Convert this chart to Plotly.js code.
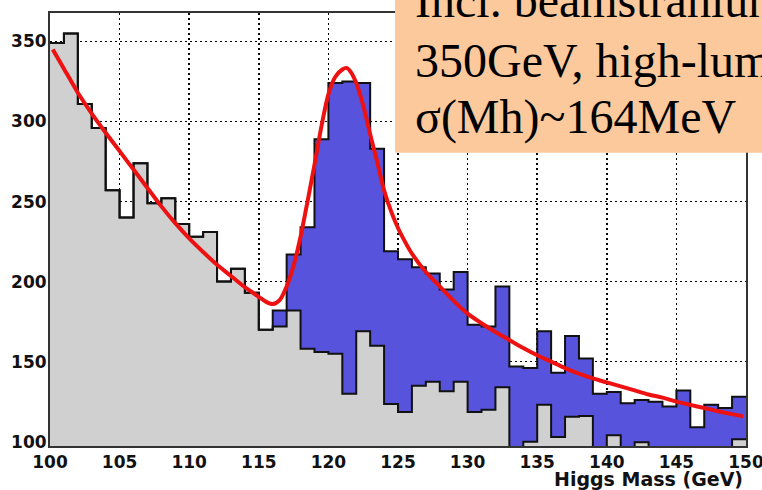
<!DOCTYPE html>
<html><head><meta charset="utf-8">
<script src="https://cdn.plot.ly/plotly-3.0.1.min.js"></script>
<style>html,body{margin:0;padding:0;background:#fff}</style>
</head><body><div id="chart" style="width:762px;height:490px"></div>
<script>
// Bin edges (GeV), 1 GeV bins
const binEdges = [100,101,102,103,104,105,106,107,108,109,110,111,112,113,114,115,116,117,118,119,120,
  121,122,123,124,125,126,127,128,129,130,131,132,133,134,135,136,137,138,139,140,
  141,142,143,144,145,146,147,148,149,150];
// Total (signal + background) entries per bin
const totalCounts = [349,355,311,296,257,240,274,249,252,236,228,231,200,208,193,170,182,217,234,289,
  324,325,324,283,219,214,209,205,195,206,173,172,197,147,146,169,143,166,152,130,
  131,124,126,125,122,132,109,123,121,128];
// Background-only entries per bin
const bkgCounts = [349,355,311,296,257,240,274,249,252,236,228,231,200,208,193,170,172,182,158,156,
  155,130,169,160,123.5,118.5,135,137.5,131.5,137.5,118.5,120,134,95,100,123,103,115.5,116,95,
  104,95,99.7,95,95,95,95,95,95,101.5];
// Fit curve
const fitX = [100.2,101,102,103,104,105,106,107,108,109,110,111,112,113,114,115,115.5,116,116.5,117,117.5,118,118.5,119,119.5,120,120.5,121,121.3,121.6,122,122.5,123,123.5,124,124.5,125,125.5,126,127,128,129,130,131,132,133,134,135,136,137,138,139,140,141,142,143,144,145,146,147,148,149,149.8];
const fitY = [345,333,318,305,293,281.5,270,258.5,247,236.5,227,218.5,210.5,203.5,196.5,190.5,187.5,186,188.5,197,210,228,250,273,297,317,328,332.5,333.5,331,324,310,292,275,257,244,233.5,225,217.5,206,197,188,180,174,168.5,163.5,158.5,154,150,146,142.5,139.5,137,134.5,132,129.5,127.5,125,123,121,119,117.2,115.8];
const xTicks = [100,105,110,115,120,125,130,135,140,145,150];
const yTicks = [100,150,200,250,300,350];
const boxLines = ['Incl. beamstrahlung','350GeV, high-lum','σ(Mh)~164MeV'];

function step(vals){ return vals.concat([vals[vals.length-1]]); }

const traces = [
  {x: binEdges, y: step(totalCounts), type:'scatter', mode:'lines', line:{shape:'hv', width:0, color:'#5753DC'},
   fill:'tozeroy', fillcolor:'#5753DC', hoverinfo:'skip', showlegend:false},
  {x: binEdges, y: step(bkgCounts), type:'scatter', mode:'lines', line:{shape:'hv', width:0, color:'#D0D0D0'},
   fill:'tozeroy', fillcolor:'#D0D0D0', hoverinfo:'skip', showlegend:false},
  {x: binEdges, y: step(bkgCounts), type:'scatter', mode:'lines', line:{shape:'hv', width:2, color:'#111'},
   hoverinfo:'skip', showlegend:false},
  {x: binEdges, y: step(totalCounts), type:'scatter', mode:'lines', line:{shape:'hv', width:2, color:'#111'},
   hoverinfo:'skip', showlegend:false},
  {x: fitX, y: fitY, type:'scatter', mode:'lines', line:{shape:'spline', smoothing:0.8, width:4, color:'#EE1111'},
   hoverinfo:'skip', showlegend:false}
];

const L=50, R=16, T=13, B=44, W=762, H=490;
const pw = W-L-R, ph = H-T-B;
const px2x = p => (p-L)/pw;
const py2y = p => (H-B-p)/ph;

const annotations = [
  {text:'Higgs Mass (GeV)', xref:'paper', yref:'paper', x:px2x(745), y:py2y(479), xanchor:'right', yanchor:'middle',
   showarrow:false, font:{family:'DejaVu Sans', size:19, color:'#111', weight:'bold'}}
];
const lineCenters = [1, 60, 116.5];
boxLines.forEach((t,i)=>{
  annotations.push({text:t, xref:'paper', yref:'paper', x:px2x(413), y:py2y(lineCenters[i]), xanchor:'left', yanchor:'middle',
    showarrow:false, font:{family:'Liberation Serif', size:48, color:'#000'}});
});

const layout = {
  width:W, height:H, margin:{l:L, r:R, t:T, b:B},
  paper_bgcolor:'#fff', plot_bgcolor:'#fff',
  xaxis:{range:[100,150], tickvals:xTicks, ticktext:xTicks.map(String), showline:true, mirror:true, linecolor:'#333', linewidth:2,
    showgrid:true, gridcolor:'#000', gridwidth:1.5, griddash:'2px,3px', zeroline:false, ticks:'', ticklabeloverflow:'allow',
    tickfont:{family:'DejaVu Sans', size:17, color:'#111', weight:'bold'}},
  yaxis:{range:[97.3,367.8], tickvals:yTicks, ticktext:yTicks.map(String), showline:true, mirror:true, linecolor:'#333', linewidth:2,
    showgrid:true, gridcolor:'#000', gridwidth:1.5, griddash:'2px,3px', zeroline:false, ticks:'', ticklabeloverflow:'allow',
    ticklabelstandoff:-2,
    tickfont:{family:'DejaVu Sans', size:17, color:'#111', weight:'bold'}},
  shapes:[{type:'rect', xref:'paper', yref:'paper', x0:px2x(395), x1:px2x(770), y0:py2y(152.7), y1:py2y(-5),
    fillcolor:'#FBC99C', line:{width:0}, layer:'above'}],
  annotations: annotations
};
Plotly.newPlot('chart', traces, layout, {displayModeBar:false, staticPlot:true});
</script></body></html>
